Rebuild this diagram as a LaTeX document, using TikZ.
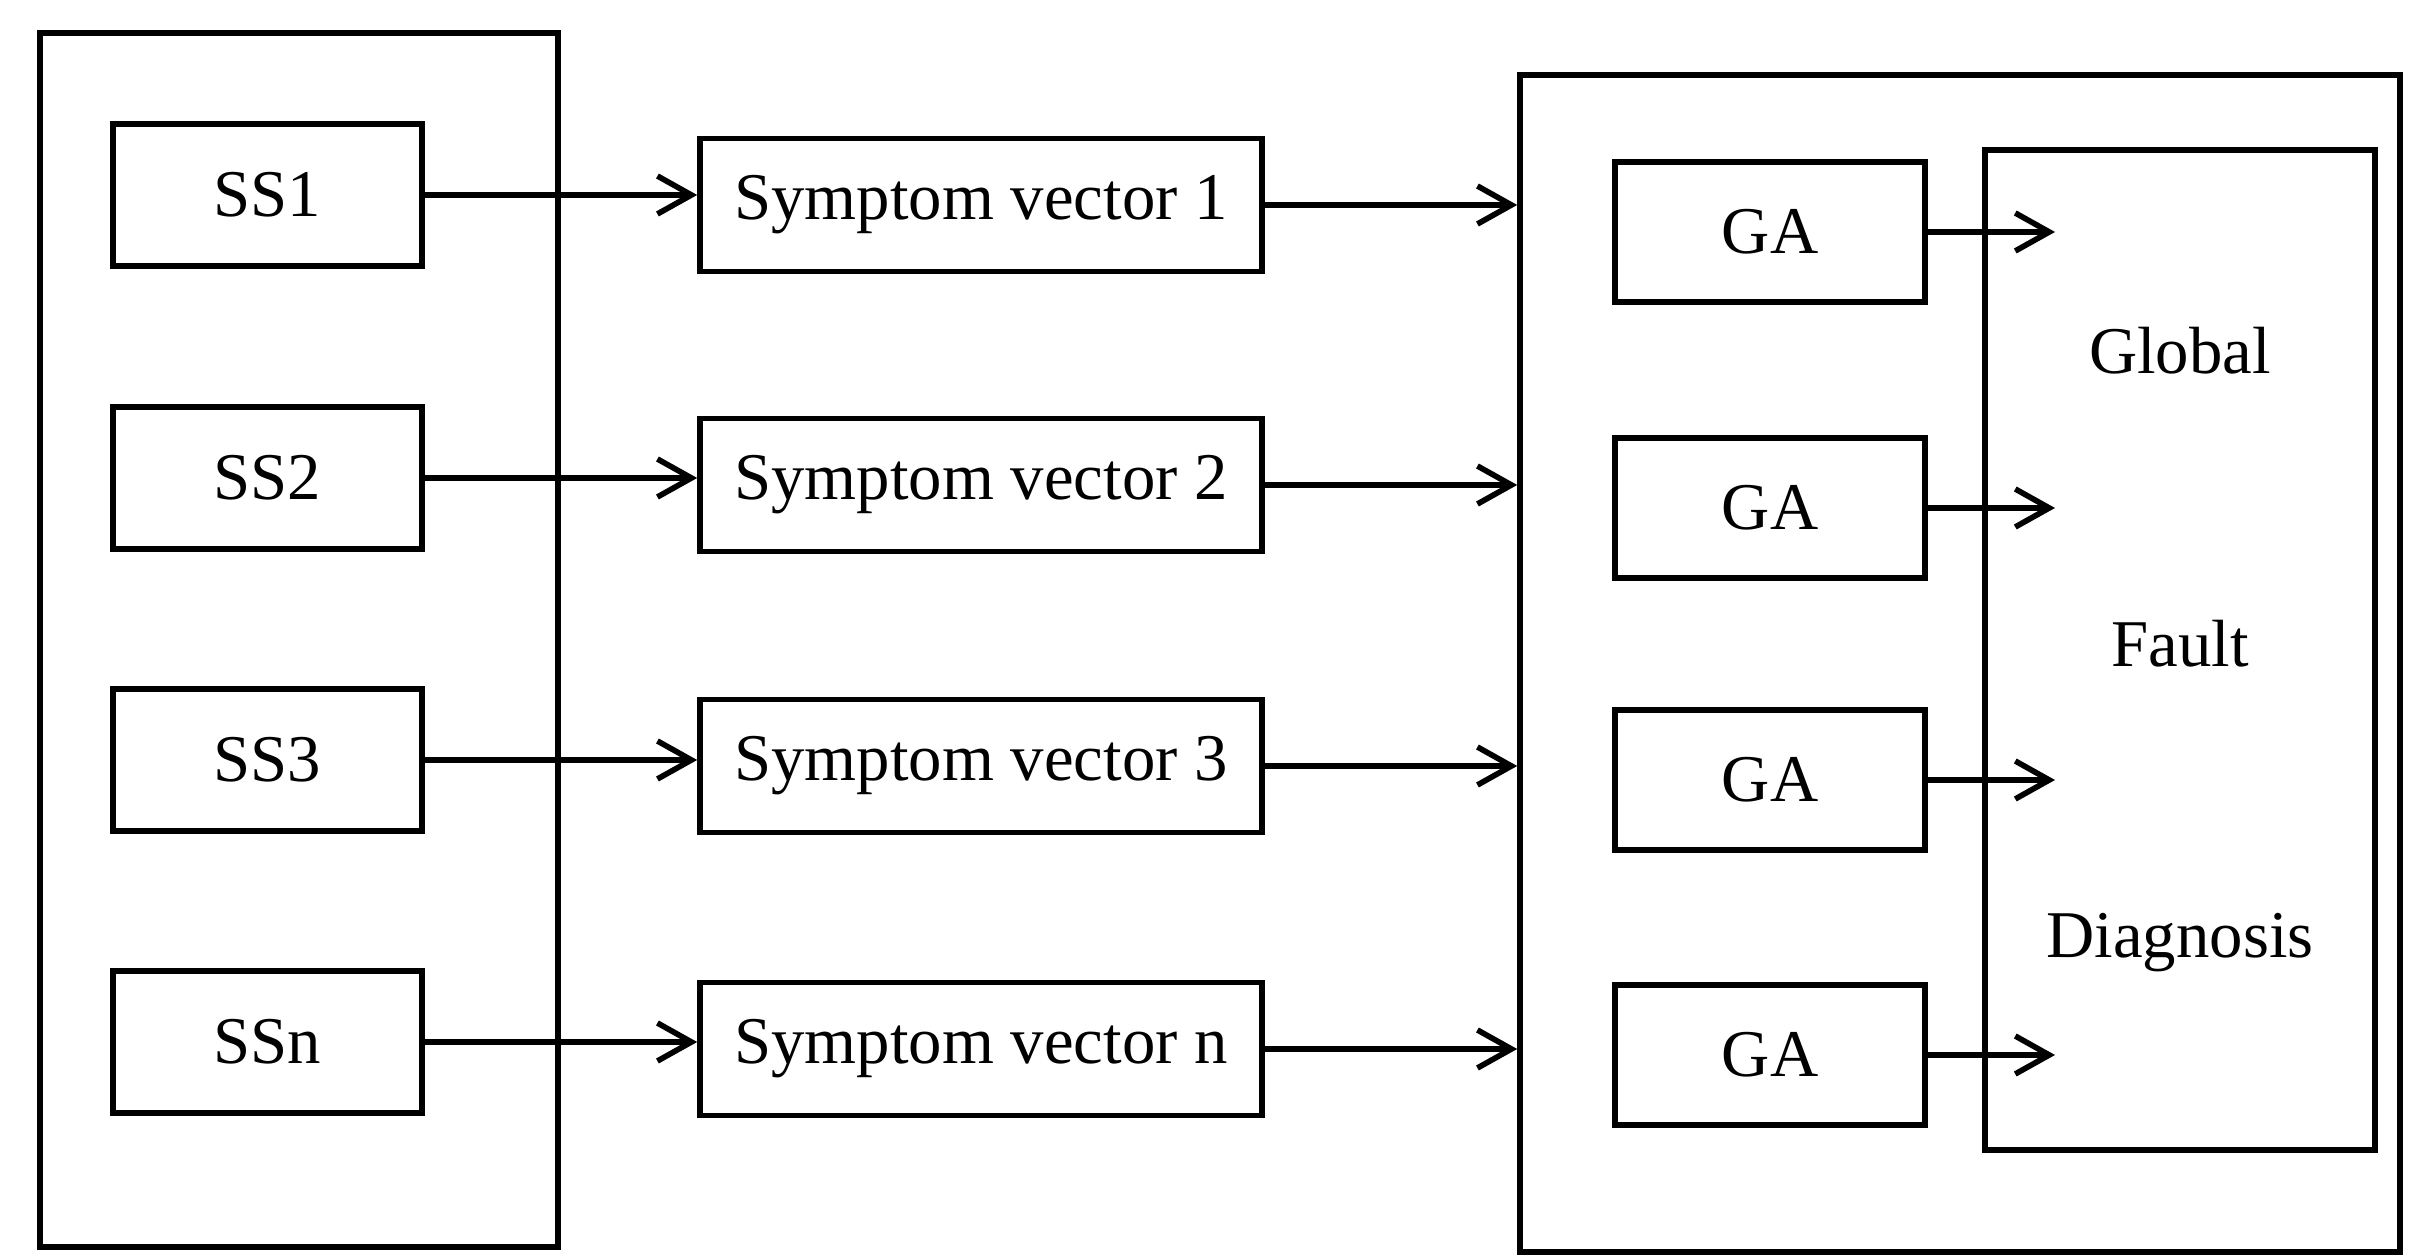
\documentclass[tikz,border=0pt]{standalone}
\usepackage{fontspec}
\setmainfont{Liberation Serif}
\usetikzlibrary{arrows.meta}
\begin{document}
\begin{tikzpicture}[line width=1.6pt, every node/.style={font=\fontsize{19}{23}\selectfont},
    blk/.style={rectangle, draw, inner sep=0pt},
    arr/.style={-{Straight Barb[length=3.4mm, width=3.8mm, line width=1.6pt]}}]
\useasboundingbox (0,0) rectangle (24.28,12.56);
% frames
\node[blk, minimum width=5.18cm, minimum height=12.14cm] (outL) at (2.99,6.16) {};
\node[blk, minimum width=8.80cm, minimum height=11.77cm] (outR) at (19.60,5.925) {};
\node[blk, minimum width=3.90cm, minimum height=10.0cm] (gfd) at (21.80,6.06) {};
\node[anchor=base] (glob) at (21.80,8.82) {Global};
\node[anchor=base] (flt) at (21.80,5.89) {Fault};
\node[anchor=base] (diag) at (21.80,2.98) {Diagnosis};
\coordinate (tip) at (20.55,0);
% rows
\foreach \i/\k/\ya/\yb/\yc in {1/1/10.61/10.51/10.24, 2/2/7.78/7.71/7.48, 3/3/4.96/4.90/4.76, 4/n/2.14/2.07/2.01} {
    \node[blk, minimum width=3.09cm, minimum height=1.42cm] (ss\i) at (2.675,\ya) {SS\k};
    \node[blk, minimum width=5.62cm, minimum height=1.33cm] (sv\i) at (9.81,\yb) {Symptom vector \k};
    \node[blk, minimum width=3.10cm, minimum height=1.40cm] (ga\i) at (17.70,\yc) {GA};
    \draw[arr] (ss\i.east) -- (ss\i.east -| sv\i.west);
    \draw[arr] (sv\i.east) -- (sv\i.east -| outR.west);
    \draw[arr] (ga\i.east) -- (ga\i.east -| tip);
}
\end{tikzpicture}
\end{document}
